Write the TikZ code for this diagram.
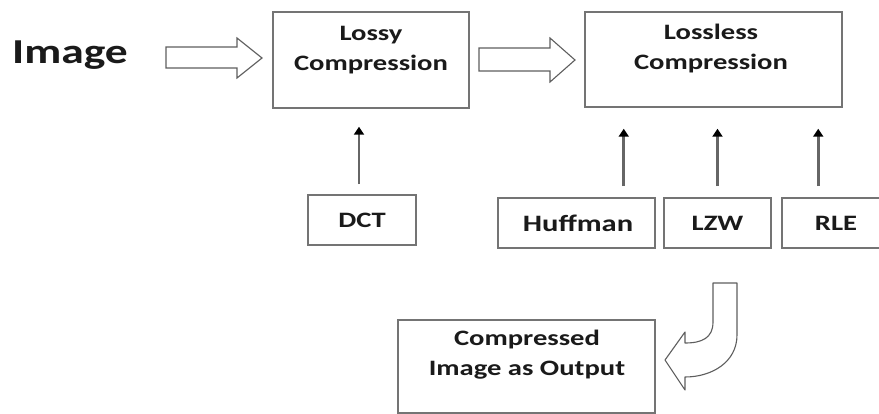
\documentclass[tikz,border=0pt]{standalone}
\usepackage{fontspec}
\setmainfont{Carlito}[FakeStretch=1.3]
\usetikzlibrary{arrows.meta}
\definecolor{boxgray}{HTML}{747474}
\definecolor{arrgray}{HTML}{5E5E5E}
\definecolor{shaftgray}{HTML}{666666}
\definecolor{txt}{HTML}{1A1A1A}
\begin{document}
\begin{tikzpicture}[x=1pt,y=-1pt,
  box/.style={draw=boxgray, line width=1.5pt, fill=white, inner sep=0pt},
  lbl/.style={text=txt, font=\bfseries\fontsize{22}{30}\selectfont, align=center, inner sep=0pt},
  hollow/.style={draw=arrgray, line width=1.1pt, fill=white, line join=miter},
  conn/.style={draw=shaftgray, line width=2.8pt, -{Triangle[width=10pt,length=8pt,black]}}]
\clip (0,0) rectangle (879,414);
\fill[white] (0,0) rectangle (879,414);

% text and boxes
\node[text=txt, font=\bfseries\fontsize{35}{40}\selectfont, inner sep=0pt] (img) at (70,55) {Image};
\node[box, minimum width=196pt, minimum height=96pt] (lossy) at (371,60) {};
\node[lbl] (lossyt) at (371,50) {Lossy\\Compression};
\node[box, minimum width=257pt, minimum height=95pt] (lossless) at (713.5,59.5) {};
\node[lbl] (losslesst) at (711,49) {Lossless\\Compression};

\node[box, minimum width=108pt, minimum height=50pt] (dct) at (362,220) {};
\node[lbl] at (dct) {DCT};
\node[box, minimum width=157pt, minimum height=50pt] (huff) at (576.5,223) {};
\node[lbl, font=\bfseries\fontsize{23.5}{30}\selectfont] at ([xshift=1.5pt]huff.center) {Huffman};
\node[box, minimum width=107pt, minimum height=50pt] (lzw) at (717.5,223) {};
\node[lbl] at (lzw) {LZW};
\node[box, minimum width=108pt, minimum height=50pt] (rle) at (836,223) {};
\node[lbl] at (rle) {RLE};

\node[box, minimum width=257pt, minimum height=93pt] (comp) at (526.5,366.5) {};
\node[lbl] (compt) at (527,355) {Compressed\\Image as Output};

% hollow block arrows
\draw[hollow] (166,47) -- (237,47) -- (237,38) -- (262,58) -- (237,78) -- (237,68) -- (166,68) -- cycle;
\draw[hollow] (479,48) -- (550,48) -- (550,38) -- (575,60) -- (550,82) -- (550,71) -- (479,71) -- cycle;

% curved hollow arrow
\draw[hollow, line join=round] (713,283) -- (737,283) -- (737,335)
  .. controls (737,362) and (712,377) .. (685,377)
  -- (685,390) -- (665,360) -- (685,332) -- (685,343)
  .. controls (702,343) and (713,338) .. (713,322) -- cycle;

% small connectors
\draw[conn, shorten <=10pt, shorten >=18pt] ([xshift=-3pt]dct.north) -- ([xshift=-3pt]dct.north |- lossy.south);
\draw[conn, shorten <=11pt, shorten >=21pt] ([xshift=-32pt]huff.north east) -- ([xshift=-32pt]huff.north east |- lossless.south);
\draw[conn, shorten <=11pt, shorten >=21pt] (lzw.north) -- (lzw.north |- lossless.south);
\draw[conn, shorten <=11pt, shorten >=21pt] ([xshift=37pt]rle.north west) -- ([xshift=37pt]rle.north west |- lossless.south);
\end{tikzpicture}
\end{document}
